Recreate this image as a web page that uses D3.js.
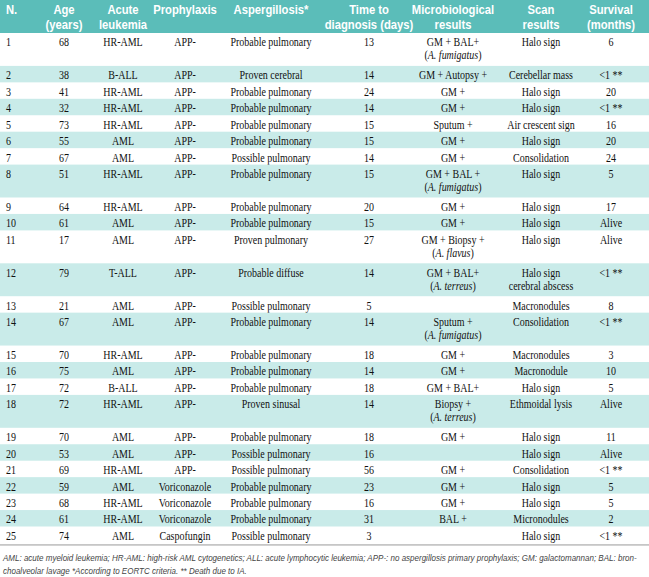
<!DOCTYPE html>
<html><head><meta charset="utf-8">
<script src="https://cdn.jsdelivr.net/npm/d3@7"></script>
<style>
body{margin:0;background:#fff}
.hd{font-family:"Liberation Sans","DejaVu Sans Condensed",sans-serif;font-weight:bold;font-size:12.5px;fill:#fff}
.cell{font-family:"Liberation Serif","DejaVu Serif",serif;font-size:12.5px;fill:#111}
.foot{font-family:"Liberation Sans","DejaVu Sans",sans-serif;font-style:italic;font-size:9px;fill:#444}
</style>
</head><body>
<svg id="t" width="649" height="577"></svg>
<script>
const headers = [["N."],["Age","(years)"],["Acute","leukemia"],["Prophylaxis"],["Aspergillosis*"],["Time to","diagnosis (days)"],["Microbiological","results"],["Scan","results"],["Survival","(months)"]];
const ids = d3.range(1,26).map(String);
const ages = [68,38,41,32,73,55,67,51,64,61,17,79,21,67,70,75,72,72,70,53,69,59,68,61,74];
const leukemia = ["HR-AML","B-ALL","HR-AML","HR-AML","HR-AML","AML","AML","HR-AML","HR-AML","AML","AML","T-ALL","AML","AML","HR-AML","AML","B-ALL","HR-AML","AML","AML","HR-AML","AML","HR-AML","HR-AML","AML"];
const prophylaxis = ["APP-","APP-","APP-","APP-","APP-","APP-","APP-","APP-","APP-","APP-","APP-","APP-","APP-","APP-","APP-","APP-","APP-","APP-","APP-","APP-","APP-","Voriconazole","Voriconazole","Voriconazole","Caspofungin"];
const aspergillosis = ["Probable pulmonary","Proven cerebral","Probable pulmonary","Probable pulmonary","Probable pulmonary","Probable pulmonary","Possible pulmonary","Probable pulmonary","Probable pulmonary","Probable pulmonary","Proven pulmonary","Probable diffuse","Possible pulmonary","Probable pulmonary","Probable pulmonary","Probable pulmonary","Probable pulmonary","Proven sinusal","Probable pulmonary","Possible pulmonary","Possible pulmonary","Probable pulmonary","Probable pulmonary","Probable pulmonary","Possible pulmonary"];
const timeToDiagnosis = [13,14,24,14,15,15,14,15,20,15,27,14,5,14,18,14,18,14,18,16,56,23,16,31,3];
const microbiology = [["GM + BAL+","(_A. fumigatus_)"],["GM + Autopsy +"],["GM +"],["GM +"],["Sputum +"],["GM +"],["GM +"],["GM + BAL +","(_A. fumigatus_)"],["GM +"],["GM +"],["GM + Biopsy +","(_A. flavus_)"],["GM + BAL+","(_A. terreus_)"],[""],["Sputum +","(_A. fumigatus_)"],["GM +"],["GM +"],["GM + BAL+"],["Biopsy +","(_A. terreus_)"],["GM +"],[""],["GM +"],["GM +"],["GM +"],["BAL +"],[""]];
const scan = [["Halo sign"],["Cerebellar mass"],["Halo sign"],["Halo sign"],["Air crescent sign"],["Halo sign"],["Consolidation"],["Halo sign"],["Halo sign"],["Halo sign"],["Halo sign"],["Halo sign","cerebral abscess"],["Macronodules"],["Consolidation"],["Macronodules"],["Macronodule"],["Halo sign"],["Ethmoidal lysis"],["Halo sign"],["Halo sign"],["Consolidation"],["Halo sign"],["Halo sign"],["Micronodules"],["Halo sign"]];
const survival = ["6","<1 **","20","<1 **","16","20","24","5","17","Alive","Alive","<1 **","8","<1 **","3","10","5","Alive","11","Alive","<1 **","5","5","2","<1 **"];
const footnote = ["AML: acute myeloid leukemia; HR-AML: high-risk AML cytogenetics; ALL: acute lymphocytic leukemia; APP-: no aspergillosis primary prophylaxis; GM: galactomannan; BAL: bron-","choalveolar lavage *According to EORTC criteria. ** Death due to IA."];

const W = 649, headerH = 33, lineH = 16.45, subLine = 13;
const colX = [6,64,123,185,271,369,453,541,611];
const colAnchor = ["start","middle","middle","middle","middle","middle","middle","middle","middle"];
const teal = "#5bbdb9", band = "#c9ebe9";
const sxCell = 0.8, sxHead = 0.9;
const svg = d3.select("#t");

// header
svg.append("rect").attr("x",0).attr("y",0).attr("width",W).attr("height",headerH).attr("fill",teal);
headers.forEach((h,i)=>{
  const t = svg.append("text").attr("class","hd").attr("text-anchor",colAnchor[i])
    .attr("transform",`translate(${colX[i]},0) scale(${sxHead},1)`);
  h.forEach((s,j)=>t.append("tspan").attr("x",0).attr("y",10+j*15).attr("dy","0.35em").text(s));
});

// rows
const rows = ids.map((id,i)=>({
  cells:[[id],[String(ages[i])],[leukemia[i]],[prophylaxis[i]],[aspergillosis[i]],[String(timeToDiagnosis[i])],microbiology[i],scan[i],[survival[i]]],
  lines: Math.max(microbiology[i].length, scan[i].length)
}));
let y = headerH;
rows.forEach(r=>{ r.y = y; r.h = lineH*r.lines; y += r.h; });
const endY = y;

const g = svg.selectAll("g.row").data(rows).join("g").attr("class","row")
  .attr("transform",d=>`translate(0,${d.y})`);
g.append("rect").attr("x",0).attr("y",0).attr("width",W).attr("height",d=>d.h)
  .attr("fill",(d,i)=> i%2===1 ? band : "none");
g.each(function(d){
  const gg = d3.select(this);
  d.cells.forEach((c,ci)=>{
    const t = gg.append("text").attr("class","cell").attr("text-anchor",colAnchor[ci])
      .attr("transform",`translate(${colX[ci]},0) scale(${sxCell},1)`);
    c.forEach((line,li)=>{
      const ty = 9 + li*subLine;
      const parts = line.split("_");
      t.append("tspan").attr("x",0).attr("y",ty).attr("dy","0.35em").text(parts[0]);
      for(let k=1;k<parts.length;k++){
        t.append("tspan").attr("font-style",k%2===1?"italic":"normal").text(parts[k]);
      }
    });
  });
});

// rule
svg.append("line").attr("x1",0).attr("x2",W).attr("y1",endY+2).attr("y2",endY+2).attr("stroke","#999").attr("stroke-width",1);

// footnote
const ft = footnote.map((s,i)=> svg.append("text").attr("class","foot").attr("x",0).attr("y",0).attr("dy","0.35em").text(s));
const w0 = ft[0].node().getComputedTextLength();
const fsx = Math.min(1, 634 / w0);
ft.forEach((t,i)=> t.attr("transform",`translate(3,${endY+15+i*13}) scale(${fsx},1)`));
</script>
</body></html>
